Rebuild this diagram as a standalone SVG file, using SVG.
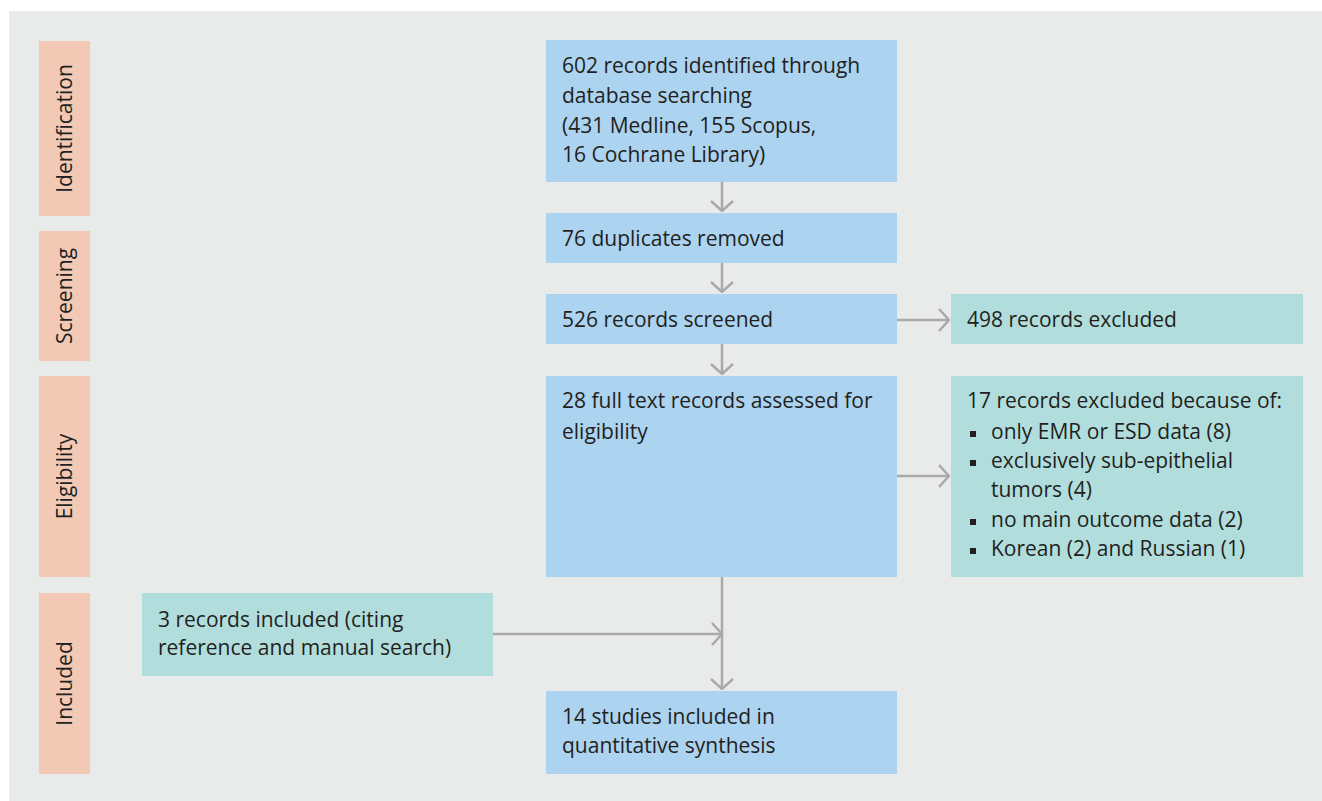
<svg xmlns="http://www.w3.org/2000/svg" width="1322" height="801" viewBox="0 0 1322 801">
<style>
.bg{fill:#e9ebea}
.lab{fill:#f2c9b4}
.blue{fill:#acd3f0}
.teal{fill:#b1dedd}
text{font-family:"Open Sans","Liberation Sans",sans-serif;font-size:21px;fill:#231f20}
.vt{text-anchor:middle}
.conn{stroke:#a9a9ab;stroke-width:2.5;fill:none}
.bul{fill:#231f20}
</style>
<defs>
<marker id="arr" viewBox="0 0 12 24" refX="11" refY="12" markerWidth="12" markerHeight="24" markerUnits="userSpaceOnUse" orient="auto">
<path d="M1,1 L11,12 L1,23" stroke="#a9a9ab" stroke-width="2.5" fill="none"/>
</marker>
</defs>
<rect class="bg" x="9" y="11" width="1313" height="790"/>
<g id="stage-identification"><rect class="lab" x="39" y="41" width="51" height="175"/><text class="vt" transform="translate(72,128.5) rotate(-90)">Identification</text></g>
<g id="stage-screening"><rect class="lab" x="39" y="231" width="51" height="130"/><text class="vt" transform="translate(72,296) rotate(-90)">Screening</text></g>
<g id="stage-eligibility"><rect class="lab" x="39" y="376" width="51" height="201"/><text class="vt" transform="translate(72,476.5) rotate(-90)">Eligibility</text></g>
<g id="stage-included"><rect class="lab" x="39" y="593" width="51" height="181"/><text class="vt" transform="translate(72,683.5) rotate(-90)">Included</text></g>
<g id="connectors">
<line class="conn" x1="722" y1="182" x2="722" y2="211" marker-end="url(#arr)"/>
<line class="conn" x1="722" y1="263" x2="722" y2="292" marker-end="url(#arr)"/>
<line class="conn" x1="722" y1="344" x2="722" y2="374" marker-end="url(#arr)"/>
<line class="conn" x1="897" y1="320" x2="949" y2="320" marker-end="url(#arr)"/>
<line class="conn" x1="897" y1="476" x2="949" y2="476" marker-end="url(#arr)"/>
<line class="conn" x1="722" y1="577" x2="722" y2="689" marker-end="url(#arr)"/>
<line class="conn" x1="493" y1="634" x2="722" y2="634" marker-end="url(#arr)"/>
</g>
<g id="n-identified"><rect class="blue" x="546" y="40" width="351" height="142"/>
<text x="562" y="73">602 records identified through</text>
<text x="562" y="103">database searching</text>
<text x="562" y="133">(431 Medline, 155 Scopus,</text>
<text x="562" y="162">16 Cochrane Library)</text></g>
<g id="n-duplicates"><rect class="blue" x="546" y="213" width="351" height="50"/><text x="562" y="246">76 duplicates removed</text></g>
<g id="n-screened"><rect class="blue" x="546" y="294" width="351" height="50"/><text x="562" y="327">526 records screened</text></g>
<g id="n-excluded"><rect class="teal" x="951" y="294" width="352" height="50"/><text x="967" y="327">498 records excluded</text></g>
<g id="n-fulltext"><rect class="blue" x="546" y="376" width="351" height="201"/>
<text x="562" y="408">28 full text records assessed for</text>
<text x="562" y="439">eligibility</text></g>
<g id="n-excluded-reasons"><rect class="teal" x="951" y="376" width="352" height="201"/>
<text x="967" y="408">17 records excluded because of:</text>
<rect class="bul" x="970" y="431" width="6" height="6"/><text x="991" y="439">only EMR or ESD data (8)</text>
<rect class="bul" x="970" y="460" width="6" height="6"/><text x="991" y="468">exclusively sub-epithelial</text>
<text x="991" y="497">tumors (4)</text>
<rect class="bul" x="970" y="519" width="6" height="6"/><text x="991" y="527">no main outcome data (2)</text>
<rect class="bul" x="970" y="548" width="6" height="6"/><text x="991" y="556">Korean (2) and Russian (1)</text></g>
<g id="n-manual"><rect class="teal" x="142" y="593" width="351" height="83"/>
<text x="158" y="627">3 records included (citing</text>
<text x="158" y="655">reference and manual search)</text></g>
<g id="n-included"><rect class="blue" x="546" y="691" width="351" height="83"/>
<text x="562" y="724">14 studies included in</text>
<text x="562" y="753">quantitative synthesis</text></g>
</svg>
